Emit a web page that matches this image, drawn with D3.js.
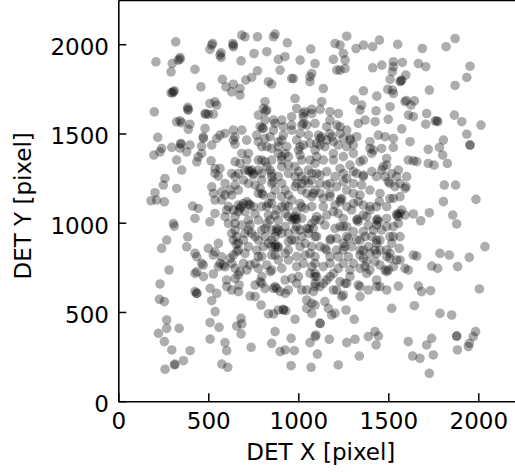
<!DOCTYPE html>
<html>
<head>
<meta charset="utf-8">
<script src="https://cdn.jsdelivr.net/npm/d3@7"></script>
<style>
  html, body { margin: 0; padding: 0; background: #ffffff; }
  svg { display: block; }
</style>
</head>
<body>
<svg id="chart" width="515" height="472"></svg>
<script>
// ---- data (DET X / DET Y in pixels) ----
const xTicks = [0, 500, 1000, 1500, 2000];
const yTicks = [0, 500, 1000, 1500, 2000];
const xLabel = "DET X [pixel]";
const yLabel = "DET Y [pixel]";
const xLimits = [0, 2250];
const yLimits = [0, 2245];

const detX = [
319,209,300,343,333,293,426,524,509,571,571,636,639,686,704,682,459,578,598,639,630,676,676,708,293,311,200,386,389,324,343,398,389,482,500,528,509,537,547,482,219,347,398,343,472,463,519,565,593,639,648,686,648,713,547,241,297,198,232,
380,324,352,436,444,463,515,537,565,537,556,259,250,204,182,213,256,324,519,528,537,574,593,413,444,426,306,311,509,537,269,241,386,380,426,436,463,472,426,436,500,556,537,528,574,593,565,583,282,
649,676,714,732,750,741,695,704,760,788,778,806,649,667,630,667,695,714,732,750,704,676,612,602,639,667,649,649,686,732,741,704,658,639,667,667,639,621,658,704,695,732,778,769,806,834,852,871,889,871,852,880,825,815,797,834,843,871,880,908,927,945,973,991,991,1010,964,945,927,908,889,852,843,825,815,852,889,927,945,945,982,1001,1019,1038,1056,1075,1019,1047,1075,1075,1038,1047,1056,1010,991,945,982,1038,1075,1065,991,927,945,889,852,825,852,908,991,1028,1075,1093,778,760,714,676,825,852,1001,1010,1065,1093,778,797,778,797,889,908,
1954,1954,1722,1784,1806,1802,1828,1754,1722,1658,1639,1611,1528,1621,1491,1811,1874,1806,1987,1728,1639,1680,1858,1880,1602,1598,1450,1574,1550,1556,2037,1950,1787,1839,1639,1658,1741,1774,1885,1561,1509,1565,1593,1611,1491,1528,1565,1509,1519,1491,1445,1435,1361,1398,1371,1408,1435,1454,1389,1361,1426,1296,1259,1222,1278,1361,1380,1398,1482,1343,
1121,1222,1269,1398,1417,1408,1463,1139,1158,1232,1287,1343,1361,1408,1463,1482,1519,1546,1500,1537,1593,1121,1176,1213,1250,1306,1352,1306,1343,1241,1232,1269,1296,1333,1398,1324,1333,1435,1389,1556,1593,1139,1121,1148,1084,1204,1232,1176,1213,1278,1306,1361,1463,1158,1343,1435,1509,1139,1222,1287,1371,
232,228,256,473,528,426,436,510,519,547,538,510,560,510,602,602,630,667,671,649,732,593,602,575,608,658,682,686,682,738,788,797,815,862,871,899,927,793,834,862,889,917,930,982,871,852,960,899,927,978,960,1065,1071,964,1019,1047,1047,1075,1093,1093,223,256,269,269,338,297,399,362,260,312,315,
1093,1148,1167,1185,1204,1265,1311,1121,1121,1098,1172,1269,1315,1339,1222,1106,1389,1426,1445,1432,1519,1556,1645,1667,1685,1735,1787,1852,1611,1713,1741,1635,1676,1750,1728,1880,1880,1985,1972,1950,1945,1884,2006,
1065,1102,1158,1195,1232,1269,1333,1389,1435,1454,1491,1121,1195,1241,1250,1084,
773,862,871,939,754,825,889,926,1010,1069,1093,773,899,963,973,1065,1075,1065,1139,741,834,852,1204,1232,1269,1250,1260,1195,1214,1232,1260,1321,1362,1413,1451,1413,1464,1362,1436,1310,1352,1343,1432,1371,1334,1427,1445,982,1130,1121,1075,1176,1223,1176,1232,
815,806,825,778,815,788,806,769,815,862,871,908,917,963,991,1028,1038,1028,1047,963,1010,1056,1112,1121,1176,1158,1102,1065,991,908,889,936,1010,1195,1250,1288,1306,1325,1269,1214,
1552,1689,1821,1871,1528,1528,1523,1578,1667,1708,1597,1565,1575,1510,1497,1528,1728,1954,1936,1871,1645,1626,1510,1612,1639,1713,1708,1760,1775,1867,1908,2015,1500,1575,1528,1482,1936
];

const detY = [
2013,1901,1892,1926,1911,1845,1859,2004,1971,1952,1926,2004,1985,2051,2041,1907,1761,1803,1761,1776,1733,1752,1715,1799,1728,1739,1621,1646,1631,1565,1571,1552,1523,1612,1608,1608,1668,1677,1659,1528,1478,1444,1435,1418,1481,1429,1435,1491,1500,1519,1481,1519,1440,1463,1472,1416,1422,1379,1397,
1397,1351,1295,1341,1369,1388,1347,1304,1304,1276,1261,1248,1211,1168,1123,1127,1117,1192,1201,1164,1127,1173,1155,1093,1080,1024,996,981,1005,1052,903,856,921,865,828,809,772,763,716,725,856,884,837,819,809,753,772,763,735,
1342,1332,1351,1286,1276,1295,1239,1295,1211,1192,1164,1155,1211,1183,1155,1099,1108,1118,1099,1090,1062,1080,1090,1071,1071,1062,996,959,987,987,940,940,922,903,884,847,819,800,838,828,772,763,810,847,866,884,866,866,866,922,959,968,996,968,959,1043,1015,1043,1071,1090,1099,1034,1024,1024,1062,1108,1127,1155,1183,1220,1258,1220,1295,1314,1342,1351,1388,1388,1370,1323,1314,1286,1258,1239,1295,1276,1183,1164,1146,1090,1080,968,940,959,978,940,903,884,866,828,810,828,791,791,819,763,735,744,754,772,754,716,744,772,735,726,1426,1416,1407,1379,1351,1332,1351,1276,1454,1426,1426,1351,
1435,1435,1411,1422,1463,1379,1332,1323,1332,1342,1347,1351,1422,1454,1360,1211,1211,1118,1131,1056,1049,1011,1043,993,1258,1202,1118,1071,1049,1034,866,806,828,819,819,813,757,744,754,856,828,791,744,735,847,978,922,922,884,1024,1006,1015,1099,1071,922,922,903,903,866,847,847,866,866,810,810,800,782,735,735,744,
1435,1435,1426,1454,1407,1388,1416,1351,1286,1304,1323,1342,1258,1286,1295,1258,1276,1258,1230,1202,1192,1220,1220,1202,1230,1220,1211,1164,1155,1136,1118,1090,1071,1118,1090,1015,1006,987,987,996,1043,1090,1015,987,968,968,978,903,912,912,950,950,959,847,819,828,800,754,744,735,754,
657,571,558,698,713,614,604,632,563,604,502,440,414,348,679,642,623,614,651,688,589,328,283,208,190,421,464,433,377,302,670,660,632,632,642,614,604,539,489,489,511,515,507,459,390,324,352,278,287,283,199,328,190,688,623,567,520,548,642,362,380,334,455,408,408,287,283,227,179,203,208,
539,558,520,483,492,511,459,436,436,371,347,328,347,253,203,264,362,390,365,315,520,645,535,645,614,619,492,483,334,315,352,253,240,259,156,365,365,390,362,324,306,287,629,
716,698,679,716,670,660,651,623,679,642,623,642,623,586,595,614,
2042,2042,2057,2008,1948,1958,1915,1930,1911,1973,1892,1851,1855,1808,1808,1818,1836,1790,1752,1814,1790,1777,2004,1995,2045,1948,1911,1915,1855,1855,1864,1976,1995,1986,2023,1868,1883,1739,1709,1687,1659,1631,1627,1575,1556,1566,1491,1696,1678,1635,1635,1622,1612,1575,1538,
1678,1640,1631,1603,1575,1538,1528,1491,1472,1519,1556,1575,1538,1594,1640,1612,1622,1556,1547,1519,1500,1491,1491,1472,1500,1463,1444,1444,1463,1463,1454,1426,1426,1454,1472,1463,1435,1482,1519,1547,
1999,1976,1986,2032,1902,1874,1846,1898,1892,1874,1827,1790,1799,1803,1747,1724,1743,1877,1814,1769,1683,1659,1650,1603,1594,1612,1552,1571,1566,1603,1566,1547,1579,1526,1472,1482,1496
];

// additional, heavily overlapping sources in the crowded centre
const coreX = [
860,980,965,985,880,890,885,875,682,725,655,1060,1075,750,723,834,797,852,908,982,1019,927,982,964,852,815,778,760,889,927,1019,1010,945,797,723,695,760,630,612,593,649,723,797,797,852,945,982,1019,908,723,667,630,593,621,575,
1330,1440,1180,1235,1102,1158,1361,1398,1269,1500,1546,1565,1102,1195,1250,1306,1472,1509,1454,1509,1565,1398,1269,1176,1121,1102,1195,1250,1380,1491,1269,1343,1454,1491,1398,1250,1176,1121,1306,1426,1546,
818,800,1028,1019,1130,1186,1288,1028,963,862,917,843,1093,1158,1232,1075,
843,880,917,1047,667,436,1001,945,760,1075,
1380,1491,1259,1139,1213,1343,1435,
343,519,639,565,473,639,306,386,486,352,302,348,
1570,1593,1600,1770,1523,
778,852,908,991,1056,1093,852,825,630,649,556,871,945,1019,1093,1093,1038,778,723,908,1019,945,871,797,723,686,649,
1093,1148,1195,1250,1306,1361,1074,1121,1204,1269,1324,1435,1491,1556,1565,1084,1176,1139,1204,1306,1435,1491,1528,1093,1158,1222,1361,1250,1417,1528,1102,1250,1324,1435,1148,1213,1343,1093,1176,1250,1454,1528,
797,927,991,1093,760,1176,1287,1343,1093
];
const coreY = [
1230,1035,1015,1018,950,960,860,875,1090,1105,880,965,996,1267,1295,1108,1164,1146,1146,1202,1220,978,959,903,903,922,1015,1052,1015,1052,1024,866,847,810,866,903,922,940,996,1034,1034,1015,1090,1239,1276,1276,1258,1351,1314,1220,1276,1276,1220,1183,1127,
1020,1020,910,1130,1276,1211,1267,1416,922,735,1043,1052,1370,1351,1276,1286,1314,1220,1164,1136,1146,1183,1183,1146,1164,1034,1062,1024,1034,978,978,903,847,810,828,847,810,866,772,782,791,
1625,1530,1594,1547,1481,1481,1472,1435,1547,1575,1491,1482,1556,1538,1500,1612,
726,632,511,623,707,604,698,623,651,492,
716,726,660,660,623,642,642,
1915,1995,1995,1939,1472,1463,1734,1635,1608,1560,1728,1440,
1795,1678,1685,1570,1743,
1295,1258,1370,1220,1220,1183,1108,1090,772,744,754,819,894,922,922,810,819,903,959,940,1090,1090,1183,1351,1388,1388,1258,
1407,1426,1388,1370,1388,1351,1239,1267,1258,1248,1276,1258,1323,1295,1220,1164,1164,1136,1099,1108,1090,1090,1136,1015,1043,1052,1043,978,959,922,922,884,903,884,856,847,847,772,772,772,763,754,
698,679,660,698,586,698,698,586,660
];

// ---- chart ----
const x = d3.scaleLinear().domain(xLimits).range([118.3, 523.3]);
const y = d3.scaleLinear().domain(yLimits).range([401.2, 0.5]);

const svg = d3.select("#chart");
const FONT = "'DejaVu Sans', 'Liberation Sans', sans-serif";

const allX = detX.concat(coreX);
const allY = detY.concat(coreY);
const n = Math.min(allX.length, allY.length);
const pts = d3.range(n).map(i => ({ x: allX[i], y: allY[i] }));

svg.append("g")
  .selectAll("circle")
  .data(pts)
  .join("circle")
  .attr("cx", d => x(d.x))
  .attr("cy", d => y(d.y))
  .attr("r", 4.8)
  .attr("fill", "#000")
  .attr("fill-opacity", 0.32)
  .attr("stroke", "none");

// x axis (ticks inward)
const gx = svg.append("g")
  .attr("transform", `translate(0,${y(0)})`)
  .call(d3.axisBottom(x).tickValues(xTicks).tickFormat(d3.format("d"))
    .tickSizeInner(-8).tickSizeOuter(0).tickPadding(11.8));
gx.select(".domain").attr("stroke", "#000").attr("stroke-width", 1.6);
gx.selectAll(".tick line").attr("stroke", "#000").attr("stroke-width", 1.5);
gx.selectAll(".tick text").attr("font-family", FONT).attr("font-size", 23).attr("fill", "#000");

// y axis (ticks inward)
const gy = svg.append("g")
  .attr("transform", `translate(${x(0)},0)`)
  .call(d3.axisLeft(y).tickValues(yTicks).tickFormat(d3.format("d"))
    .tickSizeInner(-8).tickSizeOuter(0).tickPadding(9.3));
gy.select(".domain").attr("stroke", "#000").attr("stroke-width", 1.6);
gy.selectAll(".tick line").attr("stroke", "#000").attr("stroke-width", 1.5);
gy.selectAll(".tick text").attr("font-family", FONT).attr("font-size", 23).attr("fill", "#000")
  .attr("dy", "0.45em");

// top spine
svg.append("line")
  .attr("x1", x(xLimits[0])).attr("x2", x(xLimits[1]))
  .attr("y1", y(yLimits[1])).attr("y2", y(yLimits[1]))
  .attr("stroke", "#000").attr("stroke-width", 1.6);

// axis labels
svg.append("text")
  .attr("x", (x(xLimits[0]) + x(xLimits[1])) / 2)
  .attr("y", 460)
  .attr("text-anchor", "middle")
  .attr("font-family", FONT).attr("font-size", 23).attr("fill", "#000")
  .text(xLabel);

svg.append("text")
  .attr("transform", `translate(31,${(y(yLimits[0]) + y(yLimits[1])) / 2 + 5}) rotate(-90)`)
  .attr("text-anchor", "middle")
  .attr("font-family", FONT).attr("font-size", 23).attr("fill", "#000")
  .text(yLabel);
</script>
</body>
</html>
